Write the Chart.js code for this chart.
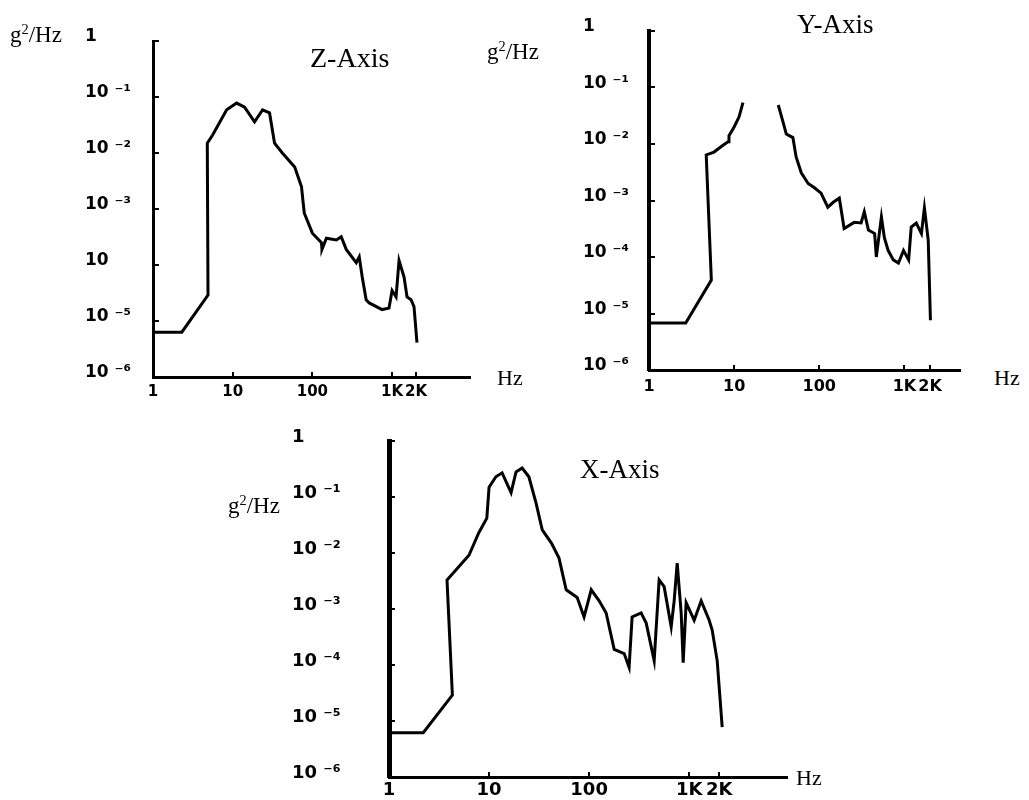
<!DOCTYPE html>
<html>
<head>
<meta charset="utf-8">
<script src="https://cdn.jsdelivr.net/npm/chart.js@4"></script>
<style>
  body { margin: 0; background: #fff; }
  #page { position: relative; width: 1029px; height: 800px; overflow: hidden; }
  canvas { position: absolute; }
  .t { position: absolute; font-family: "Liberation Serif", serif; color: #000; white-space: nowrap; line-height: 1; }
  .t sup { font-size: 0.62em; vertical-align: 0.55em; line-height: 0; }
</style>
</head>
<body>
<div id="page">
  <canvas id="zChart"></canvas>
  <canvas id="yChart"></canvas>
  <canvas id="xChart"></canvas>

  <div class="t" style="left:10px;top:23px;font-size:23px">g<sup>2</sup>/Hz</div>
  <div class="t" style="left:310px;top:44px;font-size:28px">Z-Axis</div>
  <div class="t" style="left:497px;top:367px;font-size:22px">Hz</div>

  <div class="t" style="left:487px;top:40px;font-size:23px">g<sup>2</sup>/Hz</div>
  <div class="t" style="left:797px;top:11px;font-size:27px">Y-Axis</div>
  <div class="t" style="left:994px;top:367px;font-size:22px">Hz</div>

  <div class="t" style="left:228px;top:494px;font-size:23px">g<sup>2</sup>/Hz</div>
  <div class="t" style="left:580px;top:456px;font-size:27px">X-Axis</div>
  <div class="t" style="left:796px;top:767px;font-size:22px">Hz</div>
</div>
<script>
// frequency ticks (Hz) and PSD decade ticks (g^2/Hz)
const xTickValues = [1, 10, 100, 1000, 2000];
const xTickLabels = ['1', '10', '100', '1K', '2K'];
const yTickValues = [1e-6, 1e-5, 1e-4, 1e-3, 1e-2, 1e-1, 1];
const zYLabels = ['10 \u207B\u2076', '10 \u207B\u2075', '10', '10 \u207B\u00B3', '10 \u207B\u00B2', '10 \u207B\u00B9', '1'];
const yYLabels = ['10 \u207B\u2076', '10 \u207B\u2075', '10 \u207B\u2074', '10 \u207B\u00B3', '10 \u207B\u00B2', '10 \u207B\u00B9', '1'];
const xYLabels = ['10 \u207B\u2076', '10 \u207B\u2075', '10 \u207B\u2074', '10 \u207B\u00B3', '10 \u207B\u00B2', '10 \u207B\u00B9', '1'];

// Z-Axis spectrum
const zFreq = [1, 2.3, 4.9, 4.8, 5.6, 8.4, 11.2, 14.1, 18.8, 23.7, 29, 33.5, 42, 60, 73, 79, 100, 130, 132, 150,
  200, 230, 266, 355, 387, 422, 473, 516, 750, 915, 1000, 1122, 1223, 1413, 1540, 1728, 1884, 2053];
const zPsd = [6.3e-6, 6.3e-6, 2.9e-5, 0.015, 0.021, 0.059, 0.078, 0.066, 0.036, 0.059, 0.052, 0.015, 0.010, 0.0056, 0.0025,
  8.5e-4, 3.7e-4, 2.5e-4, 1.9e-4, 3.0e-4, 2.8e-4, 3.2e-4, 1.9e-4, 1.1e-4, 1.4e-4, 6.1e-5, 2.4e-5, 2.1e-5, 1.6e-5, 1.7e-5,
  3.5e-5, 2.7e-5, 1.2e-4, 6.1e-5, 2.7e-5, 2.4e-5, 1.8e-5, 4.1e-6];

// Y-Axis spectrum (peak is hidden in the original, so there is a gap)
const yFreq = [1, 2.7, 5.4, 4.7, 5.8, 7.4, 8.5, 8.7, 10, 11.4, 12.7, 20, 33, 38, 41, 49, 53.5, 61.5, 74, 87,
  105, 126, 146, 172, 196, 257, 310, 338, 378, 447, 468, 537, 582, 646, 741, 851, 977, 1122, 1203, 1380,
  1585, 1718, 1905, 2023];
const yPsd = [6.8e-6, 6.8e-6, 3.9e-5, 6.4e-3, 7.2e-3, 9.5e-3, 0.011, 0.014, 0.020, 0.030, 0.054, null, 0.049, 0.023, 0.015,
  0.013, 5.9e-3, 3.1e-3, 2.0e-3, 1.7e-3, 1.35e-3, 7.6e-4, 9.3e-4, 1.1e-3, 3.2e-4, 4.1e-4, 4.0e-4, 6.3e-4, 3.0e-4, 2.6e-4,
  1.0e-4, 5.1e-4, 2.2e-4, 1.3e-4, 8.9e-5, 7.8e-5, 1.3e-4, 8.9e-5, 3.4e-4, 4.0e-4, 2.6e-4, 7.4e-4, 2.0e-4, 7.6e-6];

// X-Axis spectrum
const xFreq = [1, 2.2, 4.3, 3.8, 6.3, 7.9, 9.5, 10, 11.7, 13.5, 16.6, 18.6, 21.4, 25, 29.5, 34, 42, 50, 59, 76,
  89, 105, 126, 148, 178, 224, 251, 269, 331, 372, 447, 501, 562, 661, 708, 759, 832, 871, 933, 1122,
  1318, 1585, 1698, 1905, 2138];
const xPsd = [6.2e-6, 6.2e-6, 2.9e-5, 3.3e-3, 9.1e-3, 0.023, 0.042, 0.15, 0.23, 0.27, 0.12, 0.28, 0.33, 0.23, 0.078,
  0.026, 0.015, 8.1e-3, 2.2e-3, 1.6e-3, 7.2e-4, 2.2e-3, 1.4e-3, 8.5e-4, 1.9e-4, 1.6e-4, 9.1e-5, 7.2e-4, 8.5e-4, 5.6e-4,
  1.2e-4, 3.3e-3, 2.5e-3, 4.8e-4, 1.4e-3, 6.6e-3, 8.5e-4, 1.1e-4, 1.3e-3, 6.3e-4, 1.4e-3, 6.3e-4, 4.2e-4, 1.2e-4, 7.8e-6];

function makeChart(id, freq, psd, yLabels, box) {
  const cv = document.getElementById(id);
  cv.style.left = box.left + 'px';
  cv.style.top = box.top + 'px';
  cv.style.width = box.width + 'px';
  cv.style.height = box.height + 'px';
  cv.width = box.width;
  cv.height = box.height;

  const points = freq.map((f, i) => ({ x: f, y: psd[i] }));

  return new Chart(cv, {
    type: 'line',
    data: {
      datasets: [{
        data: points,
        borderColor: '#000',
        borderWidth: 3,
        pointRadius: 0,
        tension: 0,
        spanGaps: false,
        fill: false
      }]
    },
    options: {
      responsive: false,
      animation: false,
      layout: { padding: box.pad },
      plugins: { legend: { display: false }, tooltip: { enabled: false } },
      scales: {
        x: {
          type: 'logarithmic',
          min: 1,
          max: box.xmax,
          afterBuildTicks: s => { s.ticks = xTickValues.map(v => ({ value: v })); },
          afterFit: s => { s.height = box.xh; },
          ticks: {
            autoSkip: false, maxRotation: 0, color: '#000', padding: box.xpad,
            font: { family: 'DejaVu Sans', weight: 'bold', size: box.fx },
            callback: (v, i) => xTickLabels[i]
          },
          grid: { display: true, drawOnChartArea: false, drawTicks: true, tickLength: -5, color: '#000', lineWidth: 2 },
          border: { display: true, color: '#000', width: 3 }
        },
        y: {
          type: 'logarithmic',
          min: 1e-6,
          max: 1,
          afterBuildTicks: s => { s.ticks = yTickValues.map(v => ({ value: v })); },
          afterFit: s => { s.width = box.yw; },
          ticks: {
            autoSkip: false, color: '#000', crossAlign: 'far', labelOffset: -4,
            font: { family: 'DejaVu Sans', weight: 'bold', size: box.fy },
            callback: (v, i) => yLabels[i]
          },
          grid: { display: true, drawOnChartArea: false, drawTicks: true, tickLength: -6, color: '#000', lineWidth: 2 },
          border: { display: true, color: '#000', width: box.bw }
        }
      }
    }
  });
}

makeChart('zChart', zFreq, zPsd, zYLabels, {
  left: 0, top: 0, width: 530, height: 410,
  pad: { left: 85, top: 41, right: 60, bottom: 0 },
  yw: 68, xh: 33, xmax: 9500, fx: 15, fy: 17, xpad: 11, bw: 3
});

makeChart('yChart', yFreq, yPsd, yYLabels, {
  left: 480, top: 0, width: 500, height: 400,
  pad: { left: 103, top: 31, right: 20, bottom: 0 },
  yw: 66, xh: 30, xmax: 4500, fx: 16, fy: 17, xpad: 12, bw: 4
});

makeChart('xChart', xFreq, xPsd, xYLabels, {
  left: 220, top: 420, width: 580, height: 380,
  pad: { left: 72, top: 21, right: 13, bottom: 0 },
  yw: 97, xh: 23, xmax: 9500, fx: 18, fy: 18, xpad: 8, bw: 5
});
</script>
</body>
</html>
